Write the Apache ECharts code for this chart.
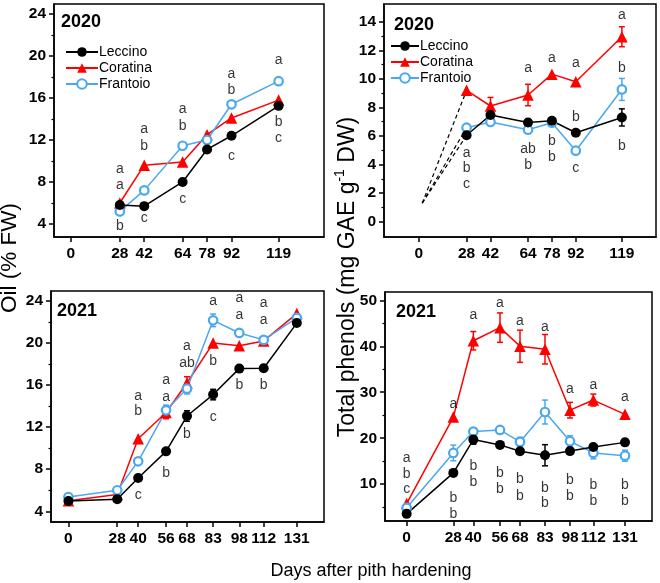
<!DOCTYPE html>
<html><head><meta charset="utf-8">
<script src="https://cdn.jsdelivr.net/npm/echarts@6/dist/echarts.min.js"></script>
<style>html,body{margin:0;padding:0;background:#fff}#c{width:660px;height:583px}</style>
</head><body><div id="c"></div>
<script>
// ---- data ----
const names = ['Leccino','Coratina','Frantoio'];
const days2020 = [28,42,64,78,92,119];
const days2021 = [0,28,40,56,68,83,98,112,131];
const ticks2020 = [0,28,42,64,78,92,119];
const ticks2021 = [0,28,40,56,68,83,98,112,131];

const oil2020Leccino  = [5.8,5.7,8.0,11.1,12.4,15.25];
const oil2020Coratina = [6.0,9.6,9.9,12.5,14.1,15.8];
const oil2020Frantoio = [5.2,7.2,11.45,12.0,15.4,17.6];

const phen2020Leccino  = [6.05,7.47,6.95,7.07,6.23,7.3];
const phen2020Coratina = [9.2,8.1,8.87,10.33,9.8,12.95];
const phen2020Frantoio = [6.58,6.98,6.44,6.93,4.97,9.26];
const phen2020LeccinoErr  = [0,0,0,0,0,0.6];
const phen2020CoratinaErr = [0,0.6,0.75,0,0,0.7];
const phen2020FrantoioErr = [0,0,0,0,0,0.77];
const phen2020DashStart = [2,1.3];

const oil2021Leccino  = [4.98,5.14,7.17,9.7,13.06,15.1,17.57,17.6,21.9];
const oil2021Coratina = [5.0,5.6,10.9,13.4,16.2,20.0,19.75,20.2,22.8];
const oil2021Frantoio = [5.36,6.0,8.75,13.6,15.66,22.16,20.96,20.3,22.4];
const oil2021LeccinoErr  = [0,0,0,0,0.5,0.5,0,0,0];
const oil2021CoratinaErr = [0,0,0,0.6,0.6,0,0,0,0];
const oil2021FrantoioErr = [0,0,0,0.5,0.5,0.6,0,0,0];

const phen2021Leccino  = [3.55,12.46,19.7,18.55,17.17,16.3,17.2,18.1,19.1];
const phen2021Coratina = [5.8,24.6,41.2,44.05,40.0,39.35,26.1,28.3,25.2];
const phen2021Frantoio = [4.86,16.8,21.45,21.8,19.2,25.7,19.35,16.8,16.2];
const phen2021LeccinoErr  = [0,0,1,0,0,2.3,0,0,0];
const phen2021CoratinaErr = [0,0,2,3.2,3.5,3.2,1.7,1.3,0];
const phen2021FrantoioErr = [0,1.7,0,0,1,2.6,1.2,1.3,1.2];

// significance letters: [day, y, letter]
const letters1 = [[28,9.27,'a'],[28,7.68,'a'],[28,3.78,'b'],[42,13.05,'a'],[42,11.46,'b'],[42,4.51,'c'],
  [64,14.9,'a'],[64,13.3,'b'],[64,6.4,'c'],[92,18.3,'a'],[92,16.7,'b'],[92,10.5,'c'],[119,19.65,'a'],[119,13.7,'b'],[119,12.2,'c']];
const letters2 = [[28,4.83,'a'],[28,3.73,'b'],[28,2.64,'c'],[64,10.78,'a'],[64,5.09,'ab'],[64,3.99,'b'],
  [78,11.43,'a'],[78,5.65,'b'],[78,4.55,'b'],[92,11.08,'a'],[92,7.3,'b'],[92,3.78,'c'],[119,14.49,'a'],[119,10.73,'b'],[119,5.32,'b']];
const letters3 = [[40,14.97,'a'],[40,13.5,'b'],[40,5.58,'c'],[56,16.5,'a'],[56,14.9,'a'],[56,7.65,'b'],
  [68,19.7,'a'],[68,18.1,'ab'],[68,11.3,'b'],[83,24.0,'a'],[83,18.26,'b'],[83,12.97,'c'],
  [98,24.25,'a'],[98,22.7,'a'],[98,16.04,'b'],[112,23.75,'a'],[112,22.16,'a'],[112,16.04,'b']];
const letters4 = [[0,15.6,'a'],[0,12.2,'b'],[0,8.84,'c'],[28,27.5,'a'],[28,7.0,'b'],[28,3.6,'b'],
  [40,46.7,'a'],[40,13.9,'b'],[40,10.36,'b'],[56,49.3,'a'],[56,12.46,'b'],[56,8.9,'b'],
  [68,45.4,'a'],[68,11.0,'b'],[68,7.5,'b'],[83,44.06,'a'],[83,9.06,'b'],[83,5.8,'b'],
  [98,30.65,'a'],[98,10.87,'b'],[98,7.46,'b'],[112,31.5,'a'],[112,9.8,'b'],[112,6.3,'b'],
  [131,29.0,'a'],[131,9.8,'b'],[131,6.3,'b']];

const yTicks1 = [4,8,12,16,20,24];
const yTicks2 = [0,2,4,6,8,10,12,14];
const yTicks3 = [4,8,12,16,20,24];
const yTicks4 = [10,20,30,40,50];
const yMinor1 = [6,10,14,18,22];
const yMinor2 = [1,3,5,7,9,11,13];
const yMinor3 = [6,10,14,18,22];
const yMinor4 = [5,15,25,35,45];

// ---- styles ----
const FONT = 'Liberation Sans, Arial, sans-serif';
const colors = {Leccino:'#000000', Coratina:'#ff0000', Frantoio:'#4aa8ef'};
const grids = [
  {left:54, top:4, width:270, height:233},
  {left:384, top:4, width:272, height:233},
  {left:51, top:291, width:273, height:231},
  {left:385, top:292, width:267, height:229}
];
const xr = [[-9.7,145],[-20.4,139],[-10,146.6],[-13,147.2]];
const yr = [[2.76,24.95],[-1.07,15.24],[2.98,24.95],[2.0,51.8]];
const xt = [ticks2020,ticks2020,ticks2021,ticks2021];
const yt = [yTicks1,yTicks2,yTicks3,yTicks4];
const ym = [yMinor1,yMinor2,yMinor3,yMinor4];

const xAxis = [], yAxis = [];
for (let i=0;i<4;i++){
  xAxis.push({type:'value', gridIndex:i, min:xr[i][0], max:xr[i][1], splitLine:{show:false},
    axisLine:{show:true, onZero:false, lineStyle:{color:'#000', width:1.5}},
    axisTick:{show:true, customValues:xt[i], length:5, lineStyle:{color:'#000', width:1.5}},
    axisLabel:{customValues:xt[i], color:'#000', fontWeight:'bold', fontSize:15.5, fontFamily:FONT, margin:9}});
  yAxis.push({type:'value', gridIndex:i, min:yr[i][0], max:yr[i][1], splitLine:{show:false},
    axisLine:{show:true, onZero:false, lineStyle:{color:'#000', width:1.5}},
    axisTick:{show:true, customValues:yt[i], length:5, lineStyle:{color:'#000', width:1.5}},
    axisLabel:{customValues:yt[i], color:'#000', fontWeight:'bold', fontSize:15.5, fontFamily:FONT, margin:8}});
}
// minor tick axes (same scale, ticks only)
for (let i=0;i<4;i++){
  yAxis.push({type:'value', gridIndex:i, min:yr[i][0], max:yr[i][1], position:'left', offset:0, splitLine:{show:false},
    axisLine:{show:false, onZero:false}, axisLabel:{show:false},
    axisTick:{show:true, customValues:ym[i], length:2.5, lineStyle:{color:'#000', width:1.2}}});
}

const symbolFor = {
  Leccino:{symbol:'circle', symbolSize:10, itemStyle:{color:'#000'}},
  Coratina:{symbol:'triangle', symbolSize:11.5, itemStyle:{color:'#ff0000'}},
  Frantoio:{symbol:'circle', symbolSize:8.5, itemStyle:{color:'#fff', borderColor:'#4aa8ef', borderWidth:2.2}}
};

function lineSeries(name, xs, ys, gi){
  const s = symbolFor[name];
  return {type:'line', name, xAxisIndex:gi, yAxisIndex:gi, data:xs.map((x,k)=>[x,ys[k]]),
    symbol:s.symbol, symbolSize:s.symbolSize, itemStyle:s.itemStyle, showAllSymbol:true,
    lineStyle:{color:colors[name], width:1.5}, z:3, animation:false};
}
function errSeries(name, xs, ys, es, gi){
  return {type:'custom', name:name+'_err', xAxisIndex:gi, yAxisIndex:gi, z:2, animation:false,
    data:xs.map((x,k)=>[x,ys[k],es[k]]),
    renderItem:function(params, api){
      const x=api.value(0), y=api.value(1), e=api.value(2);
      if(!e) return {type:'group', children:[]};
      const t=api.coord([x,y+e]), b=api.coord([x,y-e]);
      const st={stroke:colors[name], lineWidth:1.5};
      return {type:'group', children:[
        {type:'line', shape:{x1:t[0],y1:t[1],x2:b[0],y2:b[1]}, style:st},
        {type:'line', shape:{x1:t[0]-3,y1:t[1],x2:t[0]+3,y2:t[1]}, style:st},
        {type:'line', shape:{x1:b[0]-3,y1:b[1],x2:b[0]+3,y2:b[1]}, style:st}
      ]};
    }};
}
function letterSeries(arr, gi){
  return {type:'scatter', xAxisIndex:gi, yAxisIndex:gi, symbolSize:0, silent:true, animation:false, z:5,
    data:arr.map(d=>({value:[d[0],d[1]], label:{formatter:d[2]}})),
    label:{show:true, position:'inside', color:'#000', fontSize:14, fontFamily:FONT}};
}
function dashSeries(end, gi){
  return {type:'line', xAxisIndex:gi, yAxisIndex:gi, symbol:'none', animation:false, z:1, silent:true,
    data:[phen2020DashStart, end], lineStyle:{color:'#000', width:1.2, type:[4,3]}};
}

const series = [
  dashSeries([28,phen2020Coratina[0]],1), dashSeries([28,phen2020Frantoio[0]],1), dashSeries([28,phen2020Leccino[0]],1),
  lineSeries('Coratina',days2020,oil2020Coratina,0),
  lineSeries('Frantoio',days2020,oil2020Frantoio,0),
  lineSeries('Leccino',days2020,oil2020Leccino,0),
  errSeries('Coratina',days2020,phen2020Coratina,phen2020CoratinaErr,1),
  errSeries('Frantoio',days2020,phen2020Frantoio,phen2020FrantoioErr,1),
  errSeries('Leccino',days2020,phen2020Leccino,phen2020LeccinoErr,1),
  lineSeries('Coratina',days2020,phen2020Coratina,1),
  lineSeries('Frantoio',days2020,phen2020Frantoio,1),
  lineSeries('Leccino',days2020,phen2020Leccino,1),
  errSeries('Coratina',days2021,oil2021Coratina,oil2021CoratinaErr,2),
  errSeries('Frantoio',days2021,oil2021Frantoio,oil2021FrantoioErr,2),
  errSeries('Leccino',days2021,oil2021Leccino,oil2021LeccinoErr,2),
  lineSeries('Coratina',days2021,oil2021Coratina,2),
  lineSeries('Frantoio',days2021,oil2021Frantoio,2),
  lineSeries('Leccino',days2021,oil2021Leccino,2),
  errSeries('Coratina',days2021,phen2021Coratina,phen2021CoratinaErr,3),
  errSeries('Frantoio',days2021,phen2021Frantoio,phen2021FrantoioErr,3),
  errSeries('Leccino',days2021,phen2021Leccino,phen2021LeccinoErr,3),
  lineSeries('Coratina',days2021,phen2021Coratina,3),
  lineSeries('Frantoio',days2021,phen2021Frantoio,3),
  lineSeries('Leccino',days2021,phen2021Leccino,3),
  letterSeries(letters1,0), letterSeries(letters2,1), letterSeries(letters3,2), letterSeries(letters4,3)
];

const legendBase = {orient:'vertical', data:names, itemHeight:12, itemGap:2, selectedMode:false, padding:0,
  textStyle:{color:'#000', fontSize:14, fontFamily:FONT, padding:[0,0,0,-4]}};

const chart = echarts.init(document.getElementById('c'), null, {renderer:'canvas'});
chart.setOption({
  backgroundColor:'#fff',
  animation:false,
  grid: grids.map(g=>Object.assign({show:true, borderColor:'#000', borderWidth:1.5, backgroundColor:'transparent'}, g)),
  xAxis, yAxis, series,
  legend:[
    Object.assign({left:65, top:45, itemWidth:32}, legendBase),
    Object.assign({left:390, top:39, itemWidth:28}, legendBase)
  ],
  graphic:[
    {type:'text', left:61, top:13, style:{text:'2020', fill:'#000', font:'bold 18px '+FONT}},
    {type:'text', left:394, top:16, style:{text:'2020', fill:'#000', font:'bold 18px '+FONT}},
    {type:'text', left:57, top:302, style:{text:'2021', fill:'#000', font:'bold 18px '+FONT}},
    {type:'text', left:396, top:303, style:{text:'2021', fill:'#000', font:'bold 18px '+FONT}},
    {type:'text', x:10, y:258, rotation:Math.PI/2, style:{text:'Oil (% FW)', fill:'#000', font:'22.5px '+FONT, textAlign:'center', textVerticalAlign:'middle'}},
    {type:'text', x:346, y:277, rotation:Math.PI/2, style:{
      text:'{n|Total phenols (mg GAE g}{s|-1}{n| DW)}', textAlign:'center', textVerticalAlign:'middle',
      rich:{n:{fontSize:23, fontFamily:FONT, fill:'#000', color:'#000', lineHeight:26, verticalAlign:'bottom'},
            s:{fontSize:14, fontFamily:FONT, fill:'#000', color:'#000', lineHeight:26, verticalAlign:'top', padding:[0,0,10,0]}}}},
    {type:'text', x:371, y:571, style:{text:'Days after pith hardening', fill:'#000', font:'18px '+FONT, textAlign:'center', textVerticalAlign:'middle'}}
  ]
});
</script></body></html>
